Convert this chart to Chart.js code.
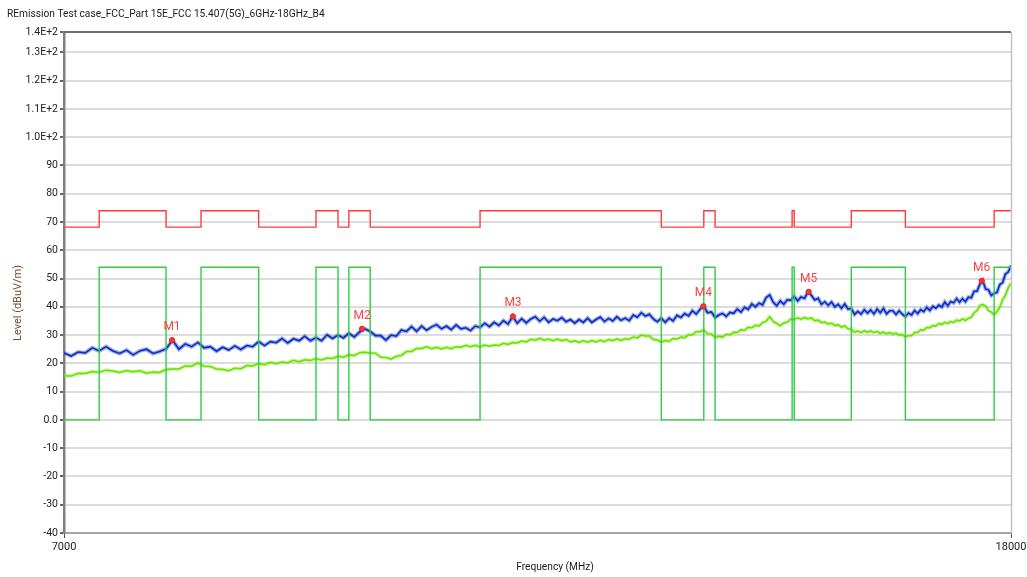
<!DOCTYPE html>
<html>
<head>
<meta charset="utf-8">
<title>REmission Test case_FCC_Part 15E_FCC 15.407(5G)_6GHz-18GHz_B4</title>
<script src="https://cdn.jsdelivr.net/npm/chart.js@4.4.0/dist/chart.umd.min.js"></script>
<style>
    html, body { margin: 0; padding: 0; background: #fff; }
    #wrap { width: 1027px; height: 577px; position: relative; }
</style>
</head>
<body>
<div id="wrap"><canvas id="emi" width="1027" height="577"></canvas></div>
<script>
// sweep points (MHz), 50 MHz apart
var freqMHz = [
    7000, 7050, 7100, 7150, 7200, 7250, 7300, 7350, 7400, 7450,
    7500, 7550, 7600, 7650, 7700, 7750, 7800, 7850, 7900, 7950,
    8000, 8050, 8100, 8150, 8200, 8250, 8300, 8350, 8400, 8450,
    8500, 8550, 8600, 8650, 8700, 8750, 8800, 8850, 8900, 8950,
    9000, 9050, 9100, 9150, 9200, 9250, 9300, 9350, 9400, 9450,
    9500, 9550, 9600, 9650, 9700, 9750, 9800, 9850, 9900, 9950,
    10000, 10050, 10100, 10150, 10200, 10250, 10300, 10350, 10400, 10450,
    10500, 10550, 10600, 10650, 10700, 10750, 10800, 10850, 10900, 10950,
    11000, 11050, 11100, 11150, 11200, 11250, 11300, 11350, 11400, 11450,
    11500, 11550, 11600, 11650, 11700, 11750, 11800, 11850, 11900, 11950,
    12000, 12050, 12100, 12150, 12200, 12250, 12300, 12350, 12400, 12450,
    12500, 12550, 12600, 12650, 12700, 12750, 12800, 12850, 12900, 12950,
    13000, 13050, 13100, 13150, 13200, 13250, 13300, 13350, 13400, 13450,
    13500, 13550, 13600, 13650, 13700, 13750, 13800, 13850, 13900, 13950,
    14000, 14050, 14100, 14150, 14200, 14250, 14300, 14350, 14400, 14450,
    14500, 14550, 14600, 14650, 14700, 14750, 14800, 14850, 14900, 14950,
    15000, 15050, 15100, 15150, 15200, 15250, 15300, 15350, 15400, 15450,
    15500, 15550, 15600, 15650, 15700, 15750, 15800, 15850, 15900, 15950,
    16000, 16050, 16100, 16150, 16200, 16250, 16300, 16350, 16400, 16450,
    16500, 16550, 16600, 16650, 16700, 16750, 16800, 16850, 16900, 16950,
    17000, 17050, 17100, 17150, 17200, 17250, 17300, 17350, 17400, 17450,
    17500, 17550, 17600, 17650, 17700, 17750, 17800, 17850, 17900, 17950,
    18000
];

// peak detector trace (dBuV/m)
var peakLevel = [
    23.7, 22.6, 24.0, 23.7, 25.5, 24.4, 25.9, 24.4, 23.5, 24.7,
    23.0, 24.4, 25.0, 23.5, 24.2, 25.1, 28.2, 25.0, 26.9, 25.9,
    27.4, 25.5, 25.9, 24.3, 25.7, 24.7, 26.2, 24.9, 26.3, 25.9,
    27.7, 26.3, 27.7, 27.3, 28.8, 27.2, 28.7, 28.0, 29.6, 28.0,
    29.1, 28.0, 30.1, 28.8, 30.0, 29.0, 30.7, 29.3, 31.1, 32.2,
    31.3, 29.8, 29.8, 28.2, 30.0, 29.6, 31.8, 31.3, 33.0, 31.3,
    33.2, 31.7, 32.9, 33.7, 32.2, 33.2, 31.9, 33.6, 32.2, 32.6,
    31.6, 33.2, 32.7, 34.2, 33.0, 34.5, 33.4, 35.1, 33.9, 36.6,
    34.2, 35.8, 34.3, 35.7, 36.5, 34.9, 36.3, 34.5, 35.7, 35.1,
    36.2, 34.7, 35.5, 34.2, 35.5, 34.5, 36.0, 34.5, 35.5, 36.4,
    34.8, 35.9, 35.0, 36.5, 35.2, 36.0, 35.1, 37.1, 36.3, 37.9,
    36.7, 37.4, 35.7, 34.7, 36.0, 34.5, 36.0, 35.0, 37.0, 36.2,
    37.6, 36.8, 38.6, 37.4, 39.1, 40.2, 37.9, 38.2, 36.2, 37.1,
    37.7, 36.6, 38.0, 37.7, 39.2, 38.1, 39.8, 39.1, 41.0, 40.0,
    41.3, 40.7, 43.3, 44.2, 41.6, 40.4, 42.1, 40.9, 42.5, 42.3,
    43.7, 42.1, 43.5, 43.0, 45.3, 44.1, 42.4, 43.0, 40.9, 41.8,
    40.5, 41.7, 40.0, 40.9, 39.5, 41.0, 39.2, 39.4, 37.3, 38.4,
    37.4, 39.0, 37.8, 38.9, 37.5, 39.2, 37.9, 39.4, 37.5, 38.6,
    38.6, 37.3, 38.6, 37.4, 36.5, 37.8, 37.1, 38.7, 37.6, 39.0,
    38.3, 39.8, 38.7, 40.2, 39.5, 40.6, 39.9, 41.7, 40.4, 41.9,
    41.4, 42.9, 41.6, 42.9, 41.8, 43.4, 43.2, 45.5, 45.5, 48.0,
    49.2, 46.3, 46.0, 44.0, 44.8, 45.1, 47.9, 48.5, 51.6, 52.3,
    54.6
];

// average detector trace (dBuV/m)
var avgLevel = [
    15.6, 15.5, 16.5, 16.4, 17.1, 16.9, 17.6, 17.3, 16.8, 17.5,
    17.0, 17.4, 16.5, 16.9, 16.8, 17.8, 18.0, 18.0, 19.1, 19.0,
    20.2, 19.0, 18.9, 18.0, 17.9, 17.4, 18.3, 18.1, 19.2, 19.1,
    19.9, 19.5, 20.4, 19.9, 20.5, 20.2, 21.1, 20.6, 21.3, 21.0,
    21.7, 21.2, 21.9, 21.7, 22.5, 22.2, 23.0, 22.8, 23.8, 23.9,
    23.7, 23.6, 22.2, 22.1, 21.5, 22.5, 22.8, 24.2, 24.2, 25.3,
    25.3, 25.9, 25.2, 25.7, 25.1, 25.7, 25.2, 25.9, 25.7, 26.4,
    25.9, 26.4, 25.8, 26.5, 26.1, 26.5, 26.3, 27.1, 26.7, 27.4,
    27.2, 27.9, 27.6, 28.5, 28.2, 28.9, 28.2, 28.6, 28.0, 28.6,
    28.0, 28.4, 27.6, 28.0, 27.4, 28.0, 27.5, 28.1, 27.6, 28.2,
    27.7, 28.4, 28.0, 28.7, 28.1, 28.7, 28.5, 29.3, 29.0, 30.0,
    29.7, 29.7, 28.4, 28.3, 27.5, 28.1, 27.8, 28.8, 28.6, 29.3,
    29.1, 30.1, 30.1, 31.2, 31.2, 31.8, 30.5, 30.4, 29.2, 29.6,
    29.3, 30.3, 30.1, 31.0, 30.9, 31.9, 31.7, 32.8, 32.6, 33.5,
    33.2, 34.4, 34.9, 36.5, 34.8, 34.1, 33.3, 34.3, 34.5, 35.7,
    35.6, 36.1, 35.6, 36.3, 35.7, 36.1, 35.1, 35.3, 34.4, 34.6,
    33.9, 34.2, 33.4, 33.6, 32.8, 33.3, 32.2, 32.1, 31.0, 31.4,
    30.9, 31.5, 31.0, 31.5, 30.9, 31.3, 30.6, 31.1, 30.5, 30.9,
    30.3, 30.7, 30.0, 30.2, 29.4, 29.8, 29.8, 30.9, 30.9, 31.9,
    31.7, 32.7, 32.6, 33.4, 33.2, 34.1, 33.8, 34.5, 34.1, 34.8,
    34.5, 35.3, 35.0, 35.7, 35.2, 35.9, 36.3, 37.9, 38.6, 40.5,
    40.8, 40.3, 38.6, 38.1, 37.1, 38.3, 39.8, 42.5, 44.1, 46.7,
    48.4
];

// restricted bands (MHz): limits step up inside them
var bandStart = [7250, 8025, 9000, 9300, 10600, 13250, 14470, 15350, 17700];
var bandEnd   = [7750, 8500, 9200, 9500, 12700, 13400, 14500, 16200, 18000];
var peakLimitIn = 74, peakLimitOut = 68.2;
var avgLimitIn = 54, avgLimitOut = 0;

// markers
var markerNames = ['M1', 'M2', 'M3', 'M4', 'M5', 'M6'];
var markerFreq  = [7796, 9423, 10954, 13244, 14711, 17481];
var markerLevel = [28.2, 32.2, 36.6, 40.2, 45.3, 49.2];

// y ticks, the top one sits on the axis max
var yTicks = [-40, -30, -20, -10, 0, 10, 20, 30, 40, 50, 60, 70, 80, 90, 100, 110, 120, 130, 137.2];
var xTicks = [7000, 18000];

var fMin = 7000, fMax = 18000;

function xy(xs, ys) {
    return xs.map(function (x, i) { return {x: x, y: ys[i]}; });
}

function limitSteps(inBand, outBand) {
    var pts = [{x: fMin, y: outBand}];
    for (var i = 0; i < bandStart.length; i++) {
        pts.push({x: bandStart[i], y: outBand});
        pts.push({x: bandStart[i], y: inBand});
        pts.push({x: bandEnd[i], y: inBand});
        if (bandEnd[i] < fMax) pts.push({x: bandEnd[i], y: outBand});
    }
    return pts;
}

function yLabel(v) {
    if (v >= 100) return (v / 100).toFixed(1) + 'E+2';
    if (v === 0) return '0.0';
    return String(v);
}

var FONT = "Roboto, 'Noto Sans', sans-serif";

// title, axis names, frame and marker labels
var overlay = {
    id: 'overlay',
    afterDatasetsDraw: function (chart) {
        var ctx = chart.ctx, a = chart.chartArea;
        ctx.save();
        ctx.lineWidth = 1.5;
        ctx.strokeStyle = '#c4c4c4';
        ctx.beginPath();
        ctx.moveTo(a.right + 0.5, a.top);
        ctx.lineTo(a.right + 0.5, a.bottom);
        ctx.stroke();
        ctx.lineWidth = 2;
        ctx.strokeStyle = '#6e6e6e';
        ctx.beginPath();
        ctx.moveTo(a.left, a.top);
        ctx.lineTo(a.right, a.top);
        ctx.stroke();

        var meta = chart.getDatasetMeta(0);
        ctx.fillStyle = '#ff4040';
        ctx.font = '12px ' + FONT;
        ctx.textAlign = 'center';
        ctx.textBaseline = 'middle';
        meta.data.forEach(function (pt, i) {
            ctx.fillText(markerNames[i], pt.x, pt.y - 13);
        });
        ctx.restore();
    },
    afterDraw: function (chart) {
        var ctx = chart.ctx;
        ctx.save();
        ctx.font = '10.2px ' + FONT;
        ctx.fillStyle = '#1a1a1a';
        ctx.textAlign = 'left';
        ctx.textBaseline = 'middle';
        ctx.fillText('REmission Test case_FCC_Part 15E_FCC 15.407(5G)_6GHz-18GHz_B4', 7, 14);

        ctx.textAlign = 'center';
        ctx.fillText('Frequency (MHz)', 555, 567);

        ctx.font = '11px ' + FONT;
        ctx.fillStyle = '#7a4a2a';
        ctx.translate(18, 303);
        ctx.rotate(-Math.PI / 2);
        ctx.fillText('Level (dBuV/m)', 0, 0);
        ctx.restore();
    }
};

new Chart(document.getElementById('emi'), {
    type: 'line',
    data: {
        datasets: [{
            label: 'Markers',
            data: xy(markerFreq, markerLevel),
            showLine: false,
            pointRadius: 2.6,
            pointBackgroundColor: '#ff3535',
            pointBorderColor: '#e01c1c',
            pointBorderWidth: 1
        }, {
            label: 'Peak limit',
            data: limitSteps(peakLimitIn, peakLimitOut),
            borderColor: '#ff3c3c',
            borderWidth: 1.4,
            pointRadius: 0
        }, {
            label: 'Average limit',
            data: limitSteps(avgLimitIn, avgLimitOut),
            borderColor: '#2fcc45',
            borderWidth: 1.4,
            pointRadius: 0
        }, {
            label: 'Peak',
            data: xy(freqMHz, peakLevel),
            borderColor: '#0a2cc0',
            borderWidth: 1.6,
            pointRadius: 0
        }, {
            label: 'Peak spread',
            data: xy(freqMHz, peakLevel),
            borderColor: 'rgba(40, 80, 210, 0.45)',
            borderWidth: 4,
            pointRadius: 0
        }, {
            label: 'Average',
            data: xy(freqMHz, avgLevel),
            borderColor: '#6ee000',
            borderWidth: 1.5,
            pointRadius: 0
        }, {
            label: 'Average spread',
            data: xy(freqMHz, avgLevel),
            borderColor: 'rgba(125, 240, 30, 0.45)',
            borderWidth: 3.5,
            pointRadius: 0
        }]
    },
    options: {
        responsive: false,
        animation: false,
        devicePixelRatio: 1,
        layout: {padding: {top: 32, right: 16, bottom: 0, left: 0}},
        elements: {line: {tension: 0}},
        plugins: {
            legend: {display: false},
            tooltip: {enabled: false},
            title: {display: false}
        },
        scales: {
            x: {
                type: 'logarithmic',
                min: fMin,
                max: fMax,
                afterBuildTicks: function (scale) {
                    scale.ticks = xTicks.map(function (v) { return {value: v}; });
                },
                afterFit: function (scale) {
                    scale.height = 44;
                    scale.paddingLeft = 0;
                    scale.paddingRight = 0;
                },
                ticks: {
                    autoSkip: false,
                    maxRotation: 0,
                    color: '#222',
                    font: {family: FONT, size: 11},
                    padding: 3,
                    callback: function (v) { return String(v); }
                },
                grid: {
                    drawOnChartArea: false,
                    tickLength: 5,
                    tickColor: '#555',
                    color: '#555'
                },
                border: {color: '#a6a6a6', width: 2}
            },
            y: {
                min: -40,
                max: 137.2,
                afterBuildTicks: function (scale) {
                    scale.ticks = yTicks.map(function (v) { return {value: v}; });
                },
                afterFit: function (scale) {
                    scale.width = 64;
                    scale.paddingTop = 0;
                    scale.paddingBottom = 0;
                },
                ticks: {
                    autoSkip: false,
                    color: '#222',
                    font: {family: FONT, size: 10.5},
                    padding: 2,
                    callback: function (v) { return yLabel(v); }
                },
                grid: {
                    color: '#dcdcdc',
                    lineWidth: 2,
                    tickLength: 4,
                    tickColor: '#333',
                    tickWidth: 1.5
                },
                border: {color: '#808080', width: 2.5}
            }
        }
    },
    plugins: [overlay]
});
</script>
</body>
</html>
